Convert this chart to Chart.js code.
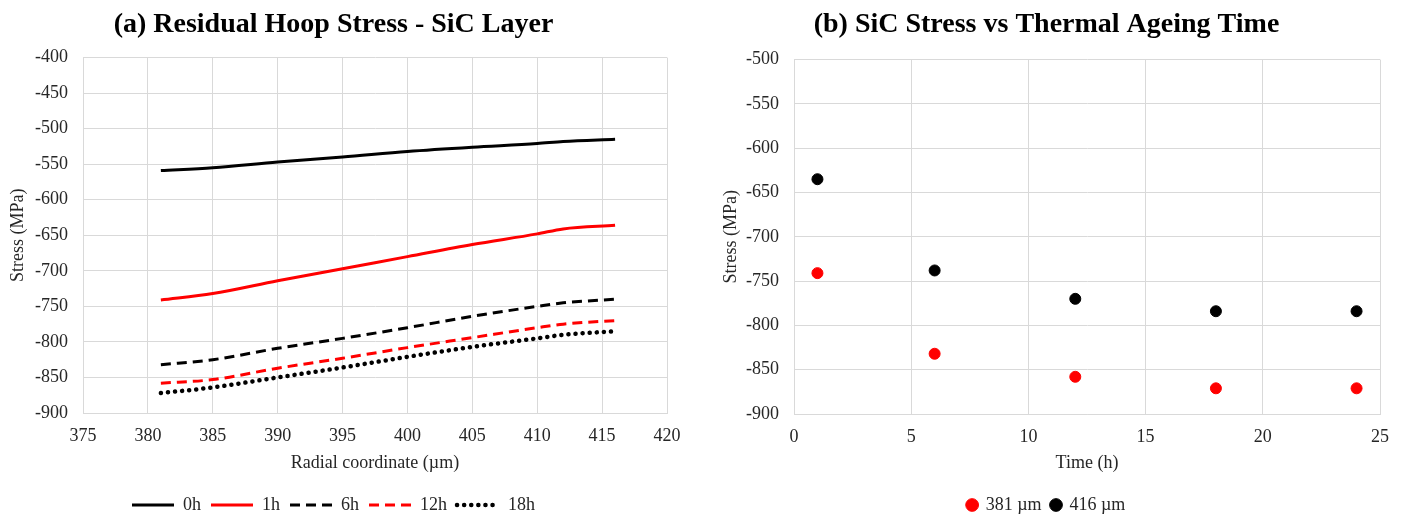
<!DOCTYPE html>
<html lang="en">
  <head>
    <meta charset="UTF-8" />
    <title>SiC stress</title>
    <script src="https://cdn.jsdelivr.net/npm/chart.js@4.4.1/dist/chart.umd.min.js"></script>
    <style>
      * { margin: 0; padding: 0; }
      body { background: #fff; width: 1404px; height: 515px; overflow: hidden; }
      .row { display: flex; }
      .box { height: 515px; }
    </style>
  </head>
  <body>
    <div class="row">
      <div class="box" style="width: 700px"><canvas id="hoop" width="700" height="515"></canvas></div>
      <div class="box" style="width: 704px"><canvas id="ageing" width="704" height="515"></canvas></div>
    </div>

    <script>
      // (a) hoop stress through the SiC layer
      const radial = [381, 385, 390, 395, 400, 405, 410, 412, 416]
      const stress0h = [-559, -555, -547, -540, -532, -526, -521, -518, -515]
      const stress1h = [-741, -732, -714, -697, -680, -663, -648, -641, -636]
      const stress6h = [-832, -825, -809, -795, -780, -764, -750, -745, -740]
      const stress12h = [-858, -853, -837, -823, -808, -794, -780, -775, -770]
      const stress18h = [-872, -864, -850, -836, -821, -807, -795, -790, -785]

      // (b) stress vs ageing time
      const ageTime = [1, 6, 12, 18, 24]
      const stress381 = [-741, -832, -858, -871, -871]
      const stress416 = [-635, -738, -770, -784, -784]

      const serif = 'Liberation Serif, Times New Roman, serif'
      const gridCol = '#d9d9d9'
      const textCol = '#262626'

      Chart.defaults.font.family = serif
      Chart.defaults.color = textCol
      Chart.defaults.animation = false

      const pts = (xs, ys) => xs.map((x, i) => ({ x, y: ys[i] }))

      function lineSet(label, ys, color, dash, width, cap) {
        return {
          label,
          data: pts(radial, ys),
          borderColor: color,
          backgroundColor: color,
          borderWidth: width,
          borderDash: dash,
          borderCapStyle: cap || 'butt',
          pointRadius: 0,
          cubicInterpolationMode: 'monotone'
        }
      }

      function axes(xMin, xMax, yMin, yMax, xTitle, yWidth, xHeight) {
        return {
          x: {
            type: 'linear',
            min: xMin,
            max: xMax,
            ticks: { stepSize: 5, padding: 12, font: { size: 18 } },
            grid: { color: gridCol, drawTicks: false },
            border: { color: gridCol },
            title: { display: true, text: xTitle, font: { size: 18 }, padding: { top: 4, bottom: 12 } },
            afterFit: (s) => { s.height = xHeight }
          },
          y: {
            min: yMin,
            max: yMax,
            ticks: { stepSize: 50, padding: 15, font: { size: 18 } },
            grid: { color: gridCol, drawTicks: false },
            border: { color: gridCol },
            title: { display: true, text: 'Stress (MPa)', font: { size: 18 }, padding: { top: 7, bottom: 4 } },
            afterFit: (s) => { s.width = yWidth }
          }
        }
      }

      function titleOpts(text, bottomPad) {
        return {
          display: true,
          text,
          color: '#000',
          font: { size: 28, weight: 'bold' },
          padding: { top: 8, bottom: bottomPad }
        }
      }

      // legend samples should show the dataset's own line style
      function styledLabels(chart) {
        const items = Chart.defaults.plugins.legend.labels.generateLabels(chart)
        items.forEach((it) => {
          const ds = chart.data.datasets[it.datasetIndex]
          it.lineDash = ds.borderDash
          it.lineWidth = ds.borderWidth
          it.lineCap = ds.borderCapStyle
          it.strokeStyle = ds.borderColor
          it.pointStyle = 'line'
        })
        return items
      }

      new Chart(document.getElementById('hoop'), {
        type: 'line',
        data: {
          datasets: [
            lineSet('0h', stress0h, '#000000', [], 3),
            lineSet('1h', stress1h, '#ff0000', [], 3),
            lineSet('6h', stress6h, '#000000', [10, 6], 3),
            lineSet('12h', stress12h, '#ff0000', [10, 6], 3),
            lineSet('18h', stress18h, '#000000', [0.1, 7], 4.5, 'round')
          ]
        },
        options: {
          responsive: false,
          layout: { padding: { left: 0, right: 33, top: 0, bottom: -9 } },
          scales: axes(375, 420, -900, -400, 'Radial coordinate (\u00b5m)', 83, 73),
          plugins: {
            title: titleOpts('(a) Residual Hoop Stress - SiC Layer', 16),
            legend: {
              position: 'bottom',
              labels: {
                usePointStyle: true,
                pointStyleWidth: 42,
                boxHeight: 10,
                padding: 10,
                color: textCol,
                font: { size: 18 },
                generateLabels: styledLabels
              }
            },
            tooltip: { enabled: false }
          }
        }
      })

      const dotSet = (label, ys, color) => ({
        label,
        data: pts(ageTime, ys),
        backgroundColor: color,
        borderColor: color,
        pointRadius: 5.5,
        pointStyle: 'circle'
      })

      new Chart(document.getElementById('ageing'), {
        type: 'scatter',
        data: {
          datasets: [
            dotSet('381 \u00b5m', stress381, '#ff0000'),
            dotSet('416 \u00b5m', stress416, '#000000')
          ]
        },
        options: {
          responsive: false,
          layout: { padding: { left: 13, right: 24, top: 0, bottom: -9 } },
          scales: axes(0, 25, -900, -500, 'Time (h)', 81, 72),
          plugins: {
            title: titleOpts('(b) SiC Stress vs Thermal Ageing Time', 18),
            legend: {
              position: 'bottom',
              labels: {
                usePointStyle: true,
                pointStyle: 'circle',
                boxHeight: 9,
                boxWidth: 9,
                padding: 10,
                color: textCol,
                font: { size: 18 }
              }
            },
            tooltip: { enabled: false }
          }
        }
      })
    </script>
  </body>
</html>
